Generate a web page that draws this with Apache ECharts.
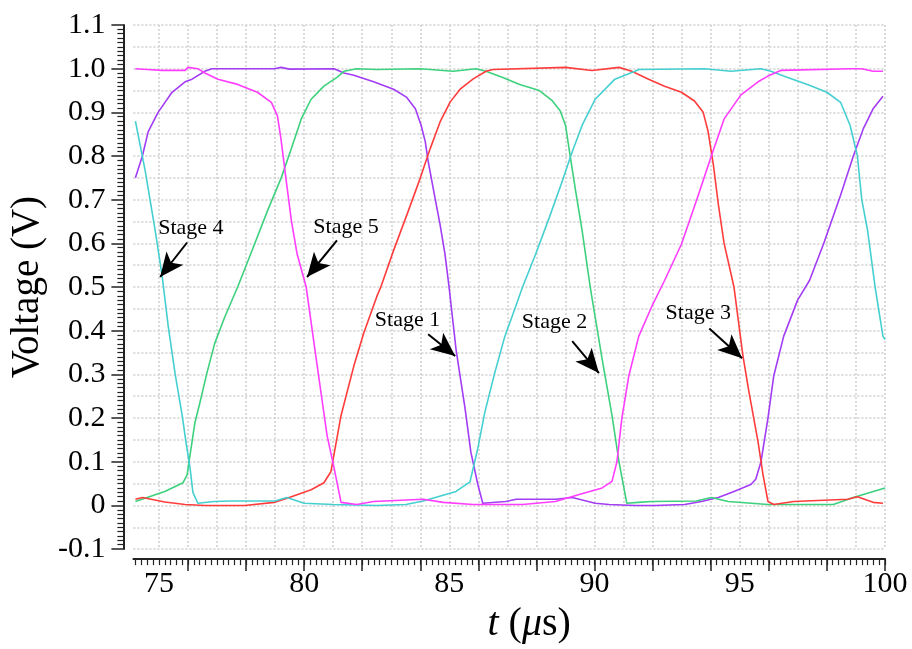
<!DOCTYPE html>
<html><head><meta charset="utf-8">
<script src="https://cdn.jsdelivr.net/npm/echarts@6/dist/echarts.min.js"></script>
<style>html,body{margin:0;padding:0;background:#fff}#c{width:912px;height:649px}</style>
</head><body><div id="c"></div>
<script>
// ---------- axis values ----------
const X_MIN = 74.12, X_MAX = 100;
const Y_MIN = -0.1, Y_MAX = 1.1;
const xLabelValues = [75, 80, 85, 90, 95, 100];
const xMajorTicks = [76, 78, 80, 82, 84, 86, 88, 90, 92, 94, 96, 98, 100];
const xGridValues = [75,76,77,78,79,80,81,82,83,84,85,86,87,88,89,90,91,92,93,94,95,96,97,98,99,100];
const xMinorTicks = [];
for (let k = 371; k <= 500; k++) xMinorTicks.push(k / 5);

// ---------- series (t in µs, voltage in V) ----------
const stage1 = [[74.19,0.75],[74.43,0.80],[74.63,0.856],[74.97,0.90],[75.45,0.946],[75.9,0.97],[76.14,0.976],[76.58,0.994],[76.82,1.0],[78.97,1.0],[79.2,1.003],[79.5,0.999],[81.03,1.0],[81.37,0.99],[81.71,0.985],[82.39,0.97],[83.08,0.953],[83.52,0.935],[83.83,0.908],[84.03,0.87],[84.17,0.833],[84.27,0.788],[84.44,0.727],[84.68,0.643],[84.85,0.575],[84.99,0.50],[85.23,0.357],[85.54,0.222],[85.74,0.122],[85.98,0.048],[86.15,0.005],[86.94,0.009],[87.3,0.014],[88.65,0.014],[89.23,0.018],[90.02,0.005],[90.5,0.002],[91.39,0],[92.07,0],[93.1,0.002],[93.68,0.009],[94.26,0.018],[94.8,0.032],[95.38,0.048],[95.55,0.06],[95.73,0.10],[95.97,0.20],[96.17,0.297],[96.51,0.387],[96.99,0.47],[97.4,0.515],[97.88,0.598],[98.47,0.71],[98.91,0.80],[99.25,0.862],[99.59,0.908],[99.93,0.937]];
const stage2 = [[74.19,0.009],[75.2,0.032],[75.83,0.052],[75.97,0.07],[76.07,0.115],[76.24,0.19],[76.41,0.235],[76.65,0.303],[76.92,0.371],[77.27,0.432],[77.71,0.50],[78.29,0.598],[78.74,0.675],[79.21,0.75],[79.56,0.817],[79.9,0.885],[80.24,0.93],[80.68,0.96],[81.13,0.98],[81.37,0.994],[81.81,1.0],[82.5,0.998],[84.0,1.0],[85.13,0.994],[85.92,1.0],[86.26,0.994],[86.84,0.98],[87.42,0.964],[88.1,0.95],[88.55,0.926],[88.82,0.903],[89.0,0.87],[89.16,0.80],[89.33,0.727],[89.57,0.63],[89.85,0.50],[90.26,0.335],[90.6,0.206],[90.84,0.10],[91.01,0.04],[91.11,0.005],[91.5,0.007],[91.97,0.009],[93.5,0.01],[94.02,0.018],[94.6,0.009],[95.97,0.002],[98.22,0.002],[98.91,0.018],[100,0.04]];
const stage3 = [[74.19,0.014],[74.43,0.018],[75.2,0.008],[75.9,0.002],[76.58,0],[77.95,0],[78.97,0.007],[79.56,0.02],[80.24,0.036],[80.68,0.052],[80.92,0.077],[81.27,0.206],[81.71,0.319],[82.05,0.394],[82.5,0.478],[82.64,0.50],[83.08,0.584],[83.59,0.675],[84.0,0.75],[84.34,0.817],[84.68,0.878],[85.03,0.924],[85.37,0.953],[85.81,0.976],[86.26,0.994],[86.5,0.998],[89.0,1.003],[89.91,0.996],[90.84,1.003],[91.28,0.994],[91.86,0.976],[92.41,0.96],[92.99,0.946],[93.44,0.926],[93.74,0.90],[93.91,0.856],[94.09,0.78],[94.26,0.69],[94.46,0.60],[94.8,0.50],[95.11,0.342],[95.32,0.258],[95.63,0.145],[95.8,0.07],[95.97,0.009],[96.17,0.002],[96.86,0.009],[98.71,0.014],[99.05,0.02],[99.59,0.007],[99.93,0.005]];
const stage4 = [[74.19,0.88],[74.53,0.765],[74.87,0.63],[75.11,0.525],[75.32,0.41],[75.56,0.30],[75.8,0.206],[75.93,0.145],[76.07,0.086],[76.17,0.03],[76.34,0.005],[76.9,0.009],[77.5,0.01],[79.0,0.01],[79.4,0.018],[80.0,0.005],[81.0,0.002],[82.5,0],[83.5,0.002],[84.1,0.01],[85.23,0.032],[85.71,0.054],[85.98,0.131],[86.22,0.213],[86.56,0.303],[86.91,0.387],[87.28,0.455],[87.52,0.50],[87.97,0.575],[88.44,0.659],[88.89,0.743],[89.23,0.81],[89.57,0.87],[90.02,0.93],[90.7,0.976],[91.39,0.994],[91.52,0.998],[93.78,1.0],[94.7,0.994],[95.73,1.0],[96.07,0.994],[96.65,0.98],[97.33,0.964],[98.0,0.946],[98.47,0.923],[98.8,0.87],[99.05,0.80],[99.2,0.70],[99.4,0.63],[99.66,0.50],[99.93,0.387],[100,0.38]];
const stage5 = [[74.19,1.0],[74.6,0.998],[75.11,0.996],[75.9,0.996],[76.0,1.003],[76.34,1.0],[76.58,0.99],[77.03,0.976],[77.71,0.964],[78.39,0.946],[78.87,0.923],[79.08,0.892],[79.2,0.84],[79.37,0.75],[79.56,0.652],[79.76,0.575],[80.07,0.50],[80.34,0.371],[80.58,0.258],[80.79,0.16],[81.03,0.086],[81.27,0.007],[81.81,0.002],[82.39,0.009],[84.1,0.014],[84.79,0.007],[85.81,0.002],[87.52,0.002],[88.65,0.009],[89.47,0.025],[90.26,0.04],[90.6,0.055],[90.77,0.10],[90.94,0.20],[91.18,0.297],[91.52,0.387],[92.0,0.46],[92.41,0.515],[92.99,0.598],[93.57,0.71],[94.02,0.80],[94.46,0.885],[95.04,0.94],[95.63,0.97],[95.97,0.983],[96.41,0.996],[98.8,1.0],[99.2,1.0],[99.59,0.994],[99.93,0.994]];

// ---------- annotations ----------
const stageNames = ['Stage 4', 'Stage 5', 'Stage 1', 'Stage 2', 'Stage 3'];
const stageTextAt = [[76.10,0.634],[81.44,0.636],[83.56,0.423],[88.62,0.419],[93.57,0.441]];
const arrowFrom = [[75.97,0.602],[81.13,0.607],[84.27,0.392],[89.23,0.376],[93.95,0.405]];
const arrowTo = [[75.04,0.523],[80.10,0.523],[85.20,0.342],[90.15,0.303],[95.08,0.337]];

const SERIF = '"Liberation Serif", "DejaVu Serif", serif';
const colors = { s1: '#a23cf5', s2: '#3dd17d', s3: '#ff3c3c', s4: '#45cfd0', s5: '#ff3dff' };

function mk(name, data, color) {
  return { name, type: 'line', data, showSymbol: false, symbol: 'none', animation: false,
    lineStyle: { color, width: 1.6, join: 'round' }, itemStyle: { color }, xAxisIndex: 0, yAxisIndex: 0, z: 3 };
}

const series = [
  mk('Stage 1', stage1, colors.s1),
  mk('Stage 2', stage2, colors.s2),
  mk('Stage 3', stage3, colors.s3),
  mk('Stage 4', stage4, colors.s4),
  mk('Stage 5', stage5, colors.s5),
  { name: 'notes', type: 'line', data: [], xAxisIndex: 0, yAxisIndex: 0, z: 5, animation: false,
    markLine: { silent: true, animation: false, label: { show: false },
      lineStyle: { color: '#000', width: 2, type: 'solid' },
      data: arrowFrom.map((f, i) => [
        { coord: f, symbol: 'none' },
        { coord: arrowTo[i], symbol: 'arrow', symbolSize: [16, 24] }
      ]) },
    markPoint: { silent: true, animation: false, symbol: 'rect', symbolSize: 1,
      itemStyle: { color: 'rgba(0,0,0,0)' },
      label: { show: true, position: 'inside', formatter: p => p.name, color: '#000', fontSize: 22, fontFamily: SERIF },
      data: stageNames.map((n, i) => ({ name: n, coord: stageTextAt[i] })) }
  },
  // invisible helpers so the grid/tick axes are bound to a series
  { name: 'gridHelper', type: 'line', data: [[X_MIN, Y_MIN]], xAxisIndex: 2, yAxisIndex: 1,
    showSymbol: false, symbol: 'none', lineStyle: { opacity: 0 }, silent: true, animation: false },
  { name: 'tickHelper', type: 'line', data: [[X_MIN, Y_MIN]], xAxisIndex: 1, yAxisIndex: 1,
    showSymbol: false, symbol: 'none', lineStyle: { opacity: 0 }, silent: true, animation: false }
];

const dotted = { color: '#cfcfcf', width: 1.5, type: [2, 2] };
const axisLineStyle = { color: '#222', width: 2 };

const option = {
  animation: false,
  backgroundColor: '#fff',
  grid: { left: 128, right: 27, top: 25, bottom: 94, containLabel: false },
  xAxis: [
    { type: 'value', min: X_MIN, max: X_MAX, position: 'bottom', offset: 10,
      axisLine: { show: true, onZero: false, lineStyle: axisLineStyle },
      axisTick: { show: true, customValues: xMajorTicks, length: 12, lineStyle: { color: '#222', width: 1.5 } },
      axisLabel: { show: true, customValues: xLabelValues, fontSize: 30, fontFamily: SERIF, color: '#000', margin: 10 },
      splitLine: { show: false },
      name: '{i|t} ({i|\u03bc}s)', nameLocation: 'middle', nameGap: 37,
      nameTextStyle: { fontSize: 40, fontFamily: SERIF, color: '#000', padding: [0, 0, 0, 40],
        rich: { i: { fontSize: 40, fontFamily: SERIF, fontStyle: 'italic', color: '#000' } } } },
    { type: 'value', min: X_MIN, max: X_MAX, position: 'bottom', offset: 10,
      axisLine: { show: false, onZero: false },
      axisTick: { show: true, customValues: xMinorTicks, length: 6, lineStyle: { color: '#222', width: 1.2 } },
      axisLabel: { show: false }, splitLine: { show: false } },
    { type: 'value', min: X_MIN, max: X_MAX, position: 'bottom',
      axisLine: { show: false, onZero: false },
      axisTick: { show: false, customValues: xGridValues },
      axisLabel: { show: false },
      splitLine: { show: true, lineStyle: dotted } }
  ],
  yAxis: [
    { type: 'value', min: Y_MIN, max: Y_MAX, interval: 0.1, position: 'left', offset: 10,
      axisLine: { show: true, onZero: false, lineStyle: axisLineStyle },
      axisTick: { show: true, length: 12, lineStyle: { color: '#222', width: 1.5 } },
      minorTick: { show: true, splitNumber: 10, length: 6, lineStyle: { color: '#222', width: 1.2 } },
      axisLabel: { fontSize: 30, fontFamily: SERIF, color: '#000', margin: 18,
        formatter: v => Math.abs(v) < 1e-9 ? '0' : v.toFixed(1) },
      splitLine: { show: false },
      name: 'Voltage (V)', nameLocation: 'middle', nameGap: 52,
      nameTextStyle: { fontSize: 39, fontFamily: SERIF, color: '#000' } },
    { type: 'value', min: Y_MIN, max: Y_MAX, interval: 0.05, position: 'left',
      axisLine: { show: false, onZero: false }, axisTick: { show: false }, axisLabel: { show: false },
      splitLine: { show: true, lineStyle: dotted } }
  ],
  series
};

const chart = echarts.init(document.getElementById('c'), null, { renderer: 'canvas' });
chart.setOption(option);
</script>
</body></html>
